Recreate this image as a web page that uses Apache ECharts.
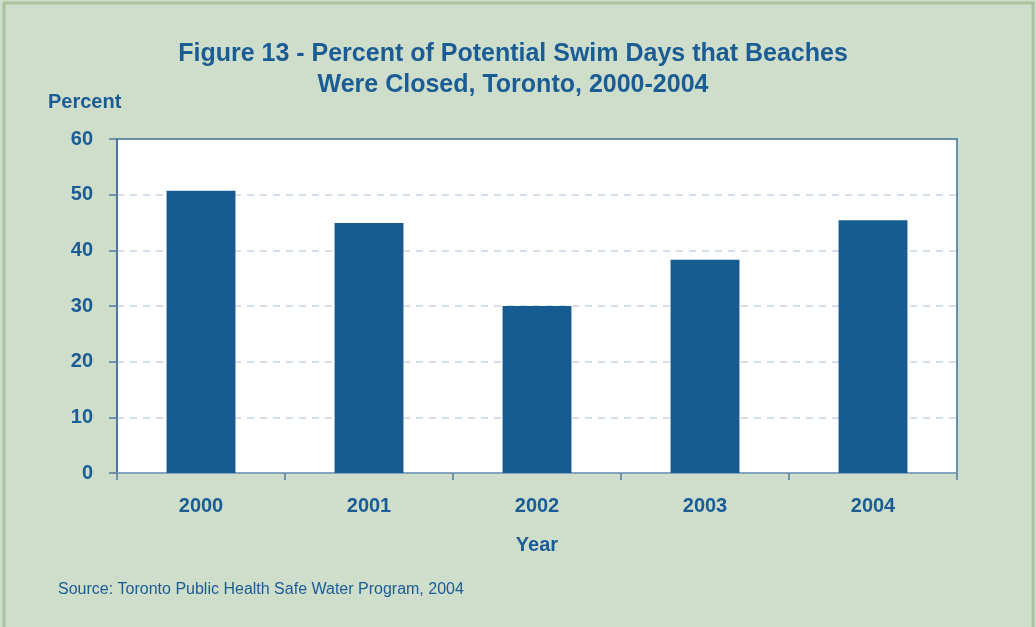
<!DOCTYPE html>
<html>
<head>
<meta charset="utf-8">
<script src="https://cdn.jsdelivr.net/npm/echarts@6/dist/echarts.min.js"></script>
<style>
html,body{margin:0;padding:0;background:#cfddcb;}
#main{width:1036px;height:627px;}
</style>
</head>
<body>
<div id="main"></div>
<script>
var years=['2000','2001','2002','2003','2004'];
var closedPct=[50.7,44.9,30.0,38.3,45.4];
var yTicks={min:0,max:60,step:10};

var blue='#1a5c94';
var myChart=echarts.init(document.getElementById('main'));
var option={
    backgroundColor:'#cfddcb',
    animation:false,
    title:{
        text:'Figure 13 - Percent of Potential Swim Days that Beaches\nWere Closed, Toronto, 2000-2004',
        left:508,
        top:34,
        textAlign:'center',
        textStyle:{
            color:blue,
            fontFamily:'Liberation Sans',
            fontWeight:'bold',
            fontSize:25,
            lineHeight:31
        }
    },
    graphic:[{
        type:'rect',
        shape:{x:4,y:3,width:1029,height:640},
        style:{fill:null,stroke:'#a9c49c',lineWidth:3},
        silent:true
    },{
        type:'text',
        left:48,
        top:92,
        style:{text:'Percent',fill:blue,font:'bold 20px Liberation Sans'}
    },{
        type:'text',
        left:58,
        top:582,
        style:{text:'Source: Toronto Public Health Safe Water Program, 2004',fill:blue,font:'16px Liberation Sans'}
    }],
    grid:{
        left:117,
        right:79,
        top:139,
        bottom:154,
        show:true,
        backgroundColor:'#ffffff',
        borderColor:'#3f6f9c',
        borderWidth:1.5
    },
    xAxis:{
        type:'category',
        data:years,
        name:'Year',
        nameLocation:'middle',
        nameGap:62,
        nameTextStyle:{color:blue,fontWeight:'bold',fontSize:20,fontFamily:'Liberation Sans'},
        axisLine:{lineStyle:{color:'#86a4c0',width:2}},
        axisTick:{show:true,length:7,lineStyle:{color:'#55799e',width:1.5}},
        axisLabel:{color:blue,fontWeight:'bold',fontSize:20,fontFamily:'Liberation Sans',margin:23}
    },
    yAxis:{
        type:'value',
        min:yTicks.min,
        max:yTicks.max,
        interval:yTicks.step,
        axisLine:{show:true,lineStyle:{color:'#3f6f9c',width:1.5}},
        axisTick:{show:true,length:8,lineStyle:{color:'#55799e',width:1.5}},
        axisLabel:{color:blue,fontWeight:'bold',fontSize:20,fontFamily:'Liberation Sans',margin:24},
        splitLine:{show:true,showMaxLine:false,lineStyle:{color:'#c8d5e6',type:[7,6],width:1.5}}
    },
    series:[{
        name:'Percent',
        type:'bar',
        data:closedPct,
        barWidth:'41%',
        itemStyle:{color:'#175c91'}
    }]
};
myChart.setOption(option);
</script>
</body>
</html>
